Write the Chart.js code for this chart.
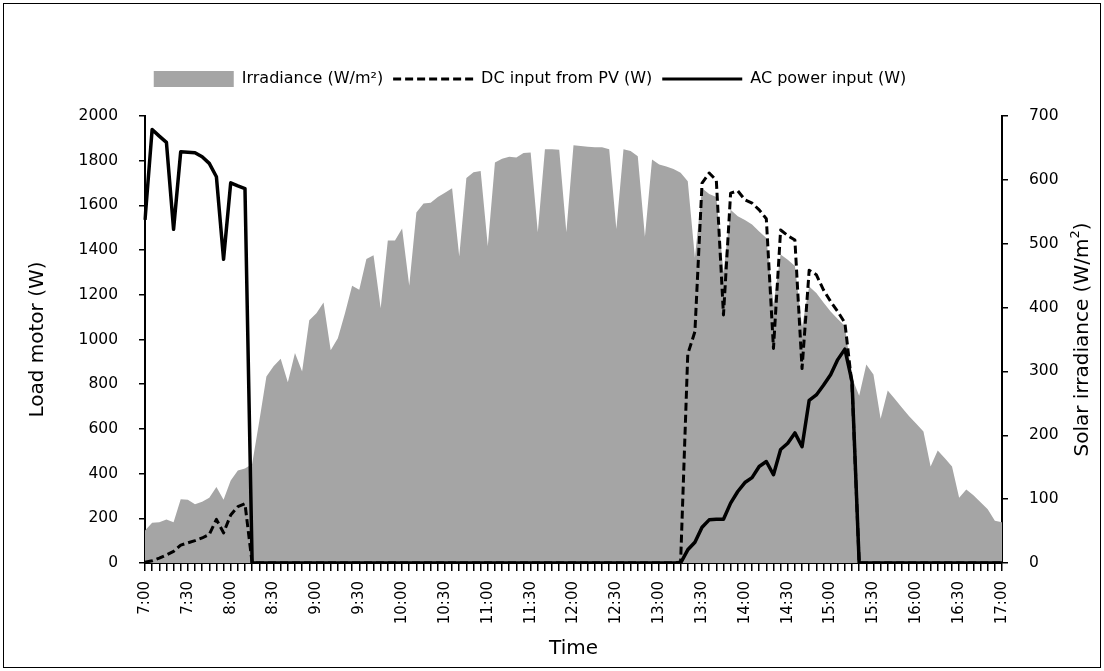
<!DOCTYPE html>
<html>
<head>
<meta charset="utf-8">
<script src="https://cdn.jsdelivr.net/npm/chart.js@4.4.1/dist/chart.umd.min.js"></script>
<style>
  body { margin: 0; background: #fff; }
  #wrap { width: 1104px; height: 671px; position: relative; }
</style>
</head>
<body>
<div id="wrap"><canvas id="chart"></canvas></div>
<script>
// time of day, every 5 minutes
const times = [
  '7:00','7:05','7:10','7:15','7:20','7:25','7:30','7:35','7:40','7:45','7:50','7:55',
  '8:00','8:05','8:10','8:15','8:20','8:25','8:30','8:35','8:40','8:45','8:50','8:55',
  '9:00','9:05','9:10','9:15','9:20','9:25','9:30','9:35','9:40','9:45','9:50','9:55',
  '10:00','10:05','10:10','10:15','10:20','10:25','10:30','10:35','10:40','10:45','10:50','10:55',
  '11:00','11:05','11:10','11:15','11:20','11:25','11:30','11:35','11:40','11:45','11:50','11:55',
  '12:00','12:05','12:10','12:15','12:20','12:25','12:30','12:35','12:40','12:45','12:50','12:55',
  '13:00','13:05','13:10','13:15','13:20','13:25','13:30','13:35','13:40','13:45','13:50','13:55',
  '14:00','14:05','14:10','14:15','14:20','14:25','14:30','14:35','14:40','14:45','14:50','14:55',
  '15:00','15:05','15:10','15:15','15:20','15:25','15:30','15:35','15:40','15:45','15:50','15:55',
  '16:00','16:05','16:10','16:15','16:20','16:25','16:30','16:35','16:40','16:45','16:50','16:55',
  '17:00'
];

// solar irradiance (W/m2), right axis
const irradiance = [
  51, 63, 64, 68, 64, 100, 99, 92, 96, 102, 119, 99,
  129, 145, 148, 155, 222, 292, 308, 320, 283, 329, 300, 380,
  391, 408, 333, 352, 391, 434, 428, 476, 482, 399, 505, 505,
  524, 434, 549, 563, 564, 573, 580, 587, 480, 603, 612, 614,
  496, 627, 633, 636, 635, 642, 643, 518, 648, 648, 647, 518,
  654, 653, 652, 651, 651, 648, 523, 648, 645, 637, 511, 632,
  624, 621, 617, 611, 598, 478, 587, 578, 573, 455, 553, 543,
  537, 530, 519, 509, 405, 483, 475, 465, 370, 433, 423, 408,
  394, 382, 371, 290, 262, 311, 295, 226, 270, 257, 243, 230,
  218, 206, 151, 176, 164, 151, 102, 115, 106, 95, 84, 66,
  64
];

// DC input from PV (W)
const dcInput = [
  3, 10, 22, 36, 52, 80, 90, 100, 112, 128, 195, 135,
  215, 252, 265, 0, 0, 0, 0, 0, 0, 0, 0, 0,
  0, 0, 0, 0, 0, 0, 0, 0, 0, 0, 0, 0,
  0, 0, 0, 0, 0, 0, 0, 0, 0, 0, 0, 0,
  0, 0, 0, 0, 0, 0, 0, 0, 0, 0, 0, 0,
  0, 0, 0, 0, 0, 0, 0, 0, 0, 0, 0, 0,
  0, 0, 0, 5, 935, 1035, 1700, 1745, 1712, 1110, 1655, 1665,
  1625, 1610, 1580, 1540, 960, 1490, 1465, 1445, 870, 1310, 1290, 1222,
  1170, 1125, 1075, 795, 0, 0, 0, 0, 0, 0, 0, 0,
  0, 0, 0, 0, 0, 0, 0, 0, 0, 0, 0, 0,
  0
];

// AC power input (W)
const acInput = [
  1535, 1940, 1910, 1882, 1493, 1840, 1838, 1836, 1818, 1788, 1728, 1359,
  1701, 1687, 1675, 0, 0, 0, 0, 0, 0, 0, 0, 0,
  0, 0, 0, 0, 0, 0, 0, 0, 0, 0, 0, 0,
  0, 0, 0, 0, 0, 0, 0, 0, 0, 0, 0, 0,
  0, 0, 0, 0, 0, 0, 0, 0, 0, 0, 0, 0,
  0, 0, 0, 0, 0, 0, 0, 0, 0, 0, 0, 0,
  0, 0, 0, 0, 59, 93, 160, 193, 196, 196, 268, 320,
  360, 382, 432, 454, 395, 508, 536, 582, 520, 728, 752, 795,
  842, 910, 957, 812, 0, 0, 0, 0, 0, 0, 0, 0,
  0, 0, 0, 0, 0, 0, 0, 0, 0, 0, 0, 0,
  0
];

Chart.defaults.font.family = '"DejaVu Sans", sans-serif';
Chart.defaults.color = '#000';

// push the plot down below the legend and move the legend a bit left
const legendSpacing = {
  id: 'legendSpacing',
  beforeInit(chart) {
    const fit = chart.legend.fit;
    chart.legend.fit = function () {
      fit.bind(chart.legend)();
      this.height += 19;
    };
  },
  afterLayout(chart) {
    chart.legend.left -= 28;
    chart.legend.right -= 28;
  }
};

// right axis title reads bottom to top, with a superscript 2; plus the outer frame
const rightTitle = {
  id: 'rightTitle',
  afterDraw(chart) {
    const ctx = chart.ctx;
    const s = chart.scales.y1;
    const area = chart.chartArea;
    const main = 'Solar irradiance (W/m';
    ctx.save();
    ctx.strokeStyle = '#000';
    ctx.lineWidth = 1;
    ctx.strokeRect(3.5, 3.5, chart.width - 7, chart.height - 7);
    ctx.fillStyle = '#000';
    ctx.font = '20px "DejaVu Sans"';
    const w1 = ctx.measureText(main).width;
    ctx.font = '13px "DejaVu Sans"';
    const w2 = ctx.measureText('2').width;
    ctx.font = '20px "DejaVu Sans"';
    const w3 = ctx.measureText(')').width;
    const total = w1 + w2 + w3;
    ctx.translate(s.right - 11, (area.top + area.bottom) / 2);
    ctx.rotate(-Math.PI / 2);
    ctx.textBaseline = 'middle';
    ctx.textAlign = 'left';
    let x = -total / 2;
    ctx.fillText(main, x, 0);
    x += w1;
    ctx.font = '13px "DejaVu Sans"';
    ctx.fillText('2', x, -7);
    x += w2;
    ctx.font = '20px "DejaVu Sans"';
    ctx.fillText(')', x, 0);
    ctx.restore();
  }
};

const plainNumber = function (value) { return String(value); };

new Chart(document.getElementById('chart'), {
  type: 'line',
  data: {
    labels: times,
    datasets: [{
      label: 'Irradiance (W/m\u00B2)',
      data: irradiance,
      yAxisID: 'y1',
      fill: 'origin',
      backgroundColor: '#A5A5A5',
      borderColor: '#A5A5A5',
      borderWidth: 0,
      pointRadius: 0,
      tension: 0,
      order: 3
    }, {
      label: 'DC input from PV (W)',
      data: dcInput,
      yAxisID: 'y',
      fill: false,
      borderColor: '#000',
      backgroundColor: '#000',
      borderWidth: 3,
      borderDash: [8, 4],
      borderJoinStyle: 'round',
      pointRadius: 0,
      tension: 0,
      order: 2
    }, {
      label: 'AC power input (W)',
      data: acInput,
      yAxisID: 'y',
      fill: false,
      borderColor: '#000',
      backgroundColor: '#000',
      borderWidth: 3.5,
      borderJoinStyle: 'round',
      pointRadius: 0,
      tension: 0,
      order: 1
    }]
  },
  options: {
    responsive: true,
    maintainAspectRatio: false,
    animation: false,
    layout: { padding: { left: 22, right: 10, top: 61, bottom: 6 } },
    plugins: {
      tooltip: { enabled: false },
      legend: {
        position: 'top',
        labels: {
          usePointStyle: true,
          pointStyleWidth: 80,
          boxHeight: 16,
          padding: 10,
          color: '#000',
          font: { size: 16 },
          generateLabels: function (chart) {
            return chart.data.datasets.map(function (ds, i) {
              return {
                text: ds.label,
                fillStyle: ds.backgroundColor,
                strokeStyle: ds.borderColor,
                lineWidth: ds.fill ? 0 : 3,
                lineDash: ds.borderDash || [],
                lineCap: 'butt',
                pointStyle: ds.fill ? 'rect' : 'line',
                fontColor: '#000',
                hidden: false,
                datasetIndex: i
              };
            });
          }
        }
      }
    },
    scales: {
      x: {
        offset: false,
        border: { color: '#000', width: 2 },
        grid: { drawOnChartArea: false, tickLength: 8, color: '#000', lineWidth: 1.5 },
        ticks: {
          autoSkip: false,
          minRotation: 90,
          maxRotation: 90,
          padding: 10,
          color: '#000',
          font: { size: 15 },
          callback: function (value, index) {
            return index % 6 === 0 ? times[index] : '';
          }
        },
        title: { display: true, text: 'Time', color: '#000', font: { size: 20 }, padding: { top: 0, bottom: 4 } },
        afterFit: function (scale) { scale.height = 102; }
      },
      y: {
        position: 'left',
        min: 0,
        max: 2000,
        border: { color: '#000', width: 2 },
        grid: { drawOnChartArea: false, tickLength: 6, color: '#000', lineWidth: 1.5 },
        ticks: { stepSize: 200, padding: 21, color: '#000', font: { size: 15.5 }, callback: plainNumber },
        title: { display: true, text: 'Load motor (W)', color: '#000', font: { size: 20 } },
        afterFit: function (scale) { scale.width = 123; }
      },
      y1: {
        position: 'right',
        min: 0,
        max: 700,
        border: { color: '#000', width: 2 },
        grid: { drawOnChartArea: false, tickLength: 6, color: '#000', lineWidth: 1.5 },
        ticks: { stepSize: 100, padding: 21, color: '#000', font: { size: 15.5 }, callback: plainNumber },
        afterFit: function (scale) { scale.width = 92; }
      }
    }
  },
  plugins: [legendSpacing, rightTitle]
});
</script>
</body>
</html>
